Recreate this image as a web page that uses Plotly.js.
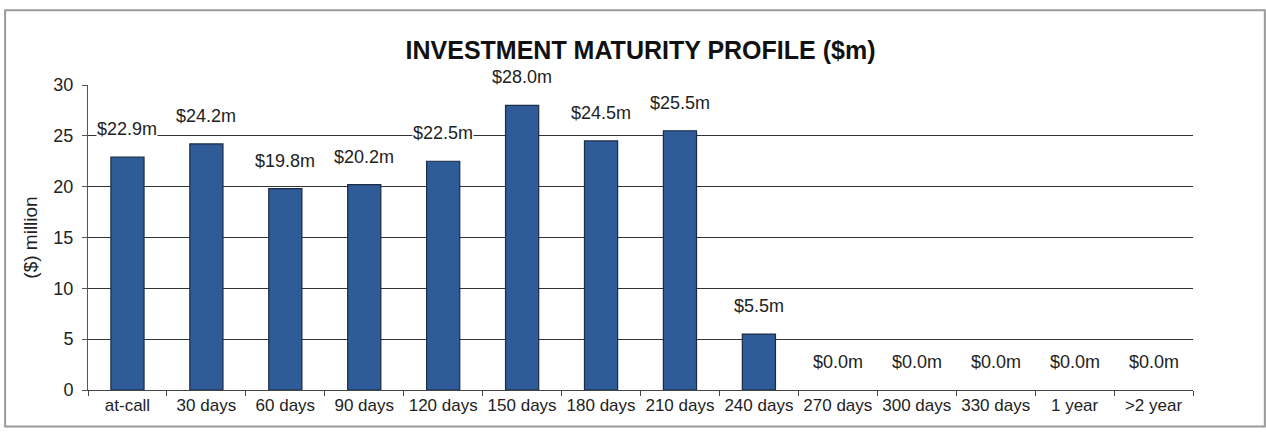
<!DOCTYPE html>
<html>
<head>
<meta charset="utf-8">
<script src="https://cdn.plot.ly/plotly-3.0.1.min.js"></script>
<style>html,body{margin:0;padding:0;background:#fff;}#chart{width:1266px;height:439px;}</style>
</head>
<body>
<div id="chart"></div>
<script>
const categories = ["at-call","30 days","60 days","90 days","120 days","150 days","180 days","210 days","240 days","270 days","300 days","330 days","1 year",">2 year"];
const values = [22.9,24.2,19.8,20.2,22.5,28.0,24.5,25.5,5.5,0.0,0.0,0.0,0.0,0.0];
const yTicks = [0,5,10,15,20,25,30];
const gridTicks = [5,10,15,20,25];
const labels = values.map(v => "$" + v.toFixed(1) + "m");

const font = "Liberation Sans, Arial, sans-serif";

const trace = {
  type: "bar",
  x: categories,
  y: values,
  marker: {color: "#2F5B99", line: {color: "#1B2B45", width: values.map(v => v > 0 ? 1.2 : 0)}},
  hoverinfo: "skip"
};

const annotations = categories.map((c, i) => ({
  x: c, y: values[i], xref: "x", yref: "y",
  text: labels[i], showarrow: false,
  yanchor: "middle", yshift: 28,
  bgcolor: "#ffffff", borderpad: 0,
  font: {family: font, size: 18, color: "#222"}
}));

const layout = {
  width: 1266, height: 439,
  margin: {l: 88, r: 73, t: 85, b: 49},
  paper_bgcolor: "#ffffff",
  plot_bgcolor: "#ffffff",
  showlegend: false,
  bargap: 0.58,
  title: {text: "<b>INVESTMENT MATURITY PROFILE ($m)</b>", x: 0.5, xref: "paper", y: 0.885, yanchor: "middle",
          font: {family: font, size: 25, color: "#111"}},
  xaxis: {
    type: "category",
    range: [-0.5, categories.length - 0.5],
    showgrid: false,
    showline: true, linecolor: "#444", linewidth: 1,
    ticks: "outside", ticklen: 5, tickcolor: "#444", tickson: "boundaries",
    tickangle: 0,
    tickfont: {family: font, size: 17, color: "#222"},
    zeroline: false, fixedrange: true
  },
  yaxis: {
    range: [0, 30],
    tickvals: yTicks,
    showgrid: false,
    showline: true, linecolor: "#555", linewidth: 1,
    ticks: "outside", ticklen: 5, tickcolor: "#555",
    ticklabelstandoff: 5,
    tickfont: {family: font, size: 18, color: "#222"},
    zeroline: false,
    title: {text: "($) million", standoff: 10, font: {family: font, size: 19, color: "#222"}},
    fixedrange: true
  },
  yaxis2: {
    overlaying: "y",
    range: [0, 30],
    tickvals: gridTicks,
    showgrid: true, gridcolor: "#333", gridwidth: 1,
    showticklabels: false, ticks: "",
    showline: false, zeroline: false, fixedrange: true
  },
  annotations: annotations,
  shapes: [{
    type: "rect", xref: "paper", yref: "paper",
    x0: -0.075, x1: 1.065, y0: -0.12, y1: 1.245,
    line: {color: "#9a9a9a", width: 2}, fillcolor: "rgba(0,0,0,0)", layer: "below"
  }]
};

const gridTrace = {type: "scatter", x: [categories[0]], y: [0], yaxis: "y2", mode: "markers", marker: {opacity: 0}, hoverinfo: "skip"};

Plotly.newPlot("chart", [gridTrace, trace], layout, {displayModeBar: false, staticPlot: true});
</script>
</body>
</html>
